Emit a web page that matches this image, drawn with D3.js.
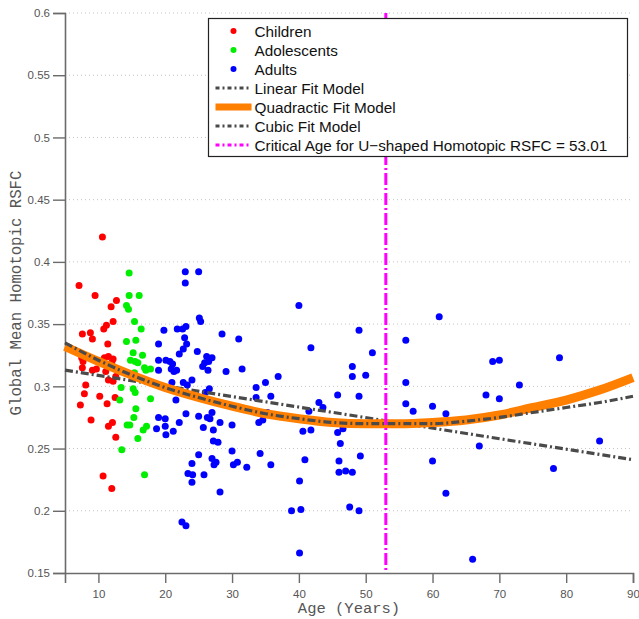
<!DOCTYPE html>
<html>
<head>
<meta charset="utf-8">
<script src="https://cdn.jsdelivr.net/npm/d3@7"></script>
<style>
  body { margin: 0; background: #fff; }
  svg { display: block; }
</style>
</head>
<body>
<svg id="chart" width="639" height="619"></svg>
<script>
// values
const childAge = [10.6, 7.1, 9.5, 12.7, 11.9, 12.2, 11.2, 10.8, 7.6, 8.8, 9.1, 11.4, 11.5, 10.9, 12.2, 12.0,
    7.5, 7.7, 7.6, 9.1, 9.7, 11.1, 12.6, 11.5, 12.2, 8.1, 7.9, 10.2, 12.5, 7.3, 11.3, 8.9, 12.1, 11.5, 12.6, 10.7, 12.0];
const childVal = [0.420, 0.381, 0.373, 0.369, 0.364, 0.352, 0.349, 0.346, 0.342, 0.343, 0.338, 0.334, 0.324, 0.323, 0.322, 0.319,
    0.323, 0.320, 0.315, 0.313, 0.314, 0.312, 0.308, 0.305, 0.304, 0.301, 0.294, 0.292, 0.291, 0.285, 0.286, 0.273, 0.271, 0.268, 0.259, 0.228, 0.218];

const adolAge = [14.6, 14.6, 16.1, 14.2, 14.5, 15.4, 16.4, 15.6, 14.2, 15.2, 16.6, 14.8, 15.5, 15.9, 16.9, 17.8,
    17.1, 15.4, 13.4, 13.2, 15.2, 15.5, 17.8, 15.6, 15.3, 14.7, 14.3, 17.2, 16.7, 15.9, 13.5, 16.9];
const adolVal = [0.391, 0.373, 0.373, 0.365, 0.362, 0.352, 0.346, 0.337, 0.336, 0.327, 0.325, 0.321, 0.320, 0.319, 0.315, 0.314,
    0.313, 0.311, 0.299, 0.289, 0.298, 0.295, 0.290, 0.282, 0.275, 0.269, 0.269, 0.268, 0.265, 0.258, 0.249, 0.229];

const adultAge = [23.0, 25.0, 23.0, 25.1, 25.3, 19.8, 21.8, 22.6, 23.1, 28.5, 22.9, 19.0, 23.2, 22.7, 22.1, 24.8,
    26.2, 27.0, 20.1, 20.7, 21.1, 19.0, 25.9, 26.5, 19.0, 20.9, 21.3, 21.7, 25.6, 26.4, 29.1, 24.0,
    21.0, 22.7, 23.3, 26.6, 26.0, 21.6, 23.1, 25.0, 26.3, 26.7, 27.0, 28.2, 19.0, 20.0, 18.7, 20.0,
    21.2, 22.1, 20.1, 25.7, 27.2, 27.2, 27.9, 25.0, 24.0, 27.0, 27.6, 27.3, 23.4, 24.1, 25.8, 24.0,
    28.2, 22.5, 23.1, 31.0, 31.5, 30.0, 30.0, 30.2, 30.8, 32.2, 33.6, 35.0, 36.9, 33.6, 35.8, 35.3,
    34.6, 34.0, 34.2, 35.8, 40.0, 41.8, 41.5, 41.8, 40.6, 40.9, 40.1, 38.9, 40.3, 40.1, 61.0, 49.0,
    56.0, 51.0, 48.0, 48.0, 50.0, 56.0, 45.8, 49.0, 43.0, 43.6, 56.0, 57.1, 60.0, 62.0, 45.8, 46.6,
    46.2, 67.0, 46.0, 46.0, 47.0, 48.0, 49.2, 60.0, 62.0, 47.6, 49.0, 66.0, 69.0, 70.0, 79.0, 73.0,
    68.0, 70.0, 70.0, 85.0, 78.1];
const adultVal = [0.392, 0.392, 0.383, 0.355, 0.352, 0.345, 0.346, 0.346, 0.348, 0.342, 0.339, 0.334, 0.334, 0.330, 0.326, 0.328,
    0.324, 0.323, 0.321, 0.320, 0.318, 0.321, 0.319, 0.320, 0.313, 0.314, 0.312, 0.313, 0.316, 0.313, 0.312, 0.305,
    0.303, 0.303, 0.301, 0.298, 0.295, 0.289, 0.278, 0.276, 0.275, 0.274, 0.279, 0.271, 0.275, 0.274, 0.266, 0.268,
    0.264, 0.271, 0.261, 0.267, 0.265, 0.256, 0.255, 0.245, 0.238, 0.242, 0.239, 0.237, 0.230, 0.229, 0.229, 0.223,
    0.215, 0.191, 0.188, 0.338, 0.314, 0.269, 0.248, 0.237, 0.239, 0.235, 0.299, 0.303, 0.308, 0.291, 0.292, 0.279,
    0.273, 0.271, 0.246, 0.237, 0.365, 0.331, 0.280, 0.265, 0.264, 0.241, 0.224, 0.200, 0.201, 0.166, 0.356, 0.345,
    0.337, 0.327, 0.316, 0.308, 0.309, 0.303, 0.293, 0.292, 0.287, 0.283, 0.286, 0.280, 0.284, 0.278, 0.263, 0.266,
    0.254, 0.252, 0.240, 0.231, 0.232, 0.231, 0.244, 0.240, 0.214, 0.203, 0.200, 0.161, 0.320, 0.321, 0.323, 0.301,
    0.293, 0.290, 0.277, 0.256, 0.234];

// fitted curves, read at every 5 years
const fitAges = [5, 10, 15, 20, 25, 30, 35, 40, 45, 50, 55, 60, 65, 70, 75, 80, 85, 90];
const quadFit = [0.332, 0.320, 0.309, 0.299, 0.291, 0.284, 0.278, 0.274, 0.271, 0.270, 0.270, 0.271, 0.273, 0.277, 0.283, 0.289, 0.297, 0.307];
const cubicFit = [0.335, 0.321, 0.309, 0.299, 0.291, 0.284, 0.278, 0.274, 0.271, 0.270, 0.270, 0.270, 0.272, 0.275, 0.279, 0.283, 0.287, 0.292];
const linearAges = [5, 90];
const linearFit = [0.313, 0.241];
const criticalAge = 53.01;

const xTickLabels = [10, 20, 30, 40, 50, 60, 70, 80, 90];
const yTickLabels = [0.15, 0.2, 0.25, 0.3, 0.35, 0.4, 0.45, 0.5, 0.55, 0.6];

const svg = d3.select("#chart");
const margin = { left: 65, right: 6, top: 13, bottom: 46 };
const width = 639, height = 619;

const x = d3.scaleLinear().domain([5, 90]).range([margin.left, width - margin.right]);
const y = d3.scaleLinear().domain([0.15, 0.6]).range([height - margin.bottom, margin.top]);

const axisColor = "#6b6b6b";
const labelFont = "'Liberation Sans', Helvetica, Arial, sans-serif";
const monoFont = "'Liberation Mono', 'Courier New', monospace";

// dotted grid at major y ticks
svg.append("g")
    .selectAll("line")
    .data(yTickLabels.filter(d => d > 0.15))
    .join("line")
    .attr("x1", x(5)).attr("x2", x(90))
    .attr("y1", d => y(d)).attr("y2", d => y(d))
    .style("stroke", "#c4c4c4")
    .style("stroke-width", 1)
    .style("stroke-dasharray", "1,3");

// minor ticks
const xMinor = d3.range(6, 90, 2).filter(d => d % 10 !== 0);
const yMinor = d3.range(16, 60, 1).filter(d => d % 5 !== 0).map(d => d / 100);

const xAxisG = svg.append("g").attr("transform", `translate(0, ${y(0.15)})`);
xAxisG.call(d3.axisBottom(x).tickValues(xMinor).tickSize(5).tickFormat(""));
xAxisG.call(d3.axisBottom(x).tickValues(xTickLabels).tickSize(10).tickPadding(7).tickFormat(d3.format("d")));

const yAxisG = svg.append("g").attr("transform", `translate(${x(5)}, 0)`);
yAxisG.call(d3.axisLeft(y).tickValues(yMinor).tickSize(6).tickFormat(""));
yAxisG.call(d3.axisLeft(y).tickValues(yTickLabels).tickSize(12).tickPadding(3).tickFormat(d => String(+d.toFixed(2))));

[xAxisG, yAxisG].forEach(g => {
    g.selectAll(".domain").style("stroke", axisColor).style("stroke-width", 1.6);
    g.selectAll(".tick line").style("stroke", axisColor).style("stroke-width", 1.4);
    g.selectAll("text")
        .style("font-family", labelFont)
        .style("font-size", "11.5px")
        .style("fill", "#555");
});

// axis titles
svg.append("text")
    .attr("x", (x(5) + x(90)) / 2)
    .attr("y", 613)
    .attr("text-anchor", "middle")
    .style("font-family", monoFont)
    .style("font-size", "15.5px")
    .style("fill", "#555")
    .text("Age (Years)");

svg.append("text")
    .attr("transform", `translate(21, ${(y(0.15) + y(0.6)) / 2}) rotate(-90)`)
    .attr("text-anchor", "middle")
    .style("font-family", monoFont)
    .style("font-size", "15.7px")
    .style("fill", "#555")
    .text("Global Mean Homotopic RSFC");

// scatter groups
const groups = [
    { name: "Children", ages: childAge, vals: childVal, color: "#ff0000" },
    { name: "Adolescents", ages: adolAge, vals: adolVal, color: "#00ee00" },
    { name: "Adults", ages: adultAge, vals: adultVal, color: "#0000ff" }
];

groups.forEach(g => {
    svg.append("g")
        .selectAll("circle")
        .data(g.ages.map((a, i) => ({ age: a, val: g.vals[i] })))
        .join("circle")
        .attr("cx", d => x(d.age))
        .attr("cy", d => y(d.val))
        .attr("r", 3.5)
        .style("fill", g.color);
});

const lineGen = d3.line()
    .x(d => x(d[0]))
    .y(d => y(d[1]))
    .curve(d3.curveMonotoneX);

const fitGray = "#4a4a4a";
const dashDot = "8,3,2,3";

svg.append("path")
    .datum(linearAges.map((a, i) => [a, linearFit[i]]))
    .attr("d", lineGen)
    .style("fill", "none")
    .style("stroke", fitGray)
    .style("stroke-width", 3.2)
    .style("stroke-dasharray", dashDot);

svg.append("path")
    .datum(fitAges.map((a, i) => [a, quadFit[i]]))
    .attr("d", lineGen)
    .style("fill", "none")
    .style("stroke", "#ff7f00")
    .style("stroke-width", 9);

svg.append("path")
    .datum(fitAges.map((a, i) => [a, cubicFit[i]]))
    .attr("d", lineGen)
    .style("fill", "none")
    .style("stroke", fitGray)
    .style("stroke-width", 3.2)
    .style("stroke-dasharray", dashDot);

svg.append("line")
    .attr("x1", x(criticalAge)).attr("x2", x(criticalAge))
    .attr("y1", y(0.6)).attr("y2", y(0.15))
    .style("stroke", "#ff00ff")
    .style("stroke-width", 3)
    .style("stroke-dasharray", "12,3,2,3");

// legend
const legend = svg.append("g").attr("transform", "translate(208.5, 18.5)");
legend.append("rect")
    .attr("width", 419).attr("height", 138)
    .style("fill", "#fff")
    .style("stroke", "#222")
    .style("stroke-width", 1.2);

const legendItems = [
    { label: "Children", type: "dot", color: "#ff0000" },
    { label: "Adolescents", type: "dot", color: "#00ee00" },
    { label: "Adults", type: "dot", color: "#0000ff" },
    { label: "Linear Fit Model", type: "line", color: fitGray, w: 3, dash: "4,3,2,3" },
    { label: "Quadractic Fit Model", type: "line", color: "#ff7f00", w: 7, dash: null },
    { label: "Cubic Fit Model", type: "line", color: fitGray, w: 3, dash: "4,3,2,3" },
    { label: "Critical Age for U\u2212shaped Homotopic RSFC = " + criticalAge.toFixed(2), type: "line", color: "#ff00ff", w: 3, dash: "4,3,2,3" }
];

const rows = legend.selectAll("g.row")
    .data(legendItems)
    .join("g")
    .attr("class", "row")
    .attr("transform", (d, i) => `translate(0, ${12.5 + i * 19})`);

rows.filter(d => d.type === "dot")
    .append("circle")
    .attr("cx", 25).attr("cy", 0).attr("r", 3)
    .style("fill", d => d.color);

rows.filter(d => d.type === "line")
    .append("line")
    .attr("x1", 7).attr("x2", 43)
    .attr("y1", 0).attr("y2", 0)
    .style("stroke", d => d.color)
    .style("stroke-width", d => d.w)
    .style("stroke-dasharray", d => d.dash);

rows.append("text")
    .attr("x", 46)
    .attr("y", 5.5)
    .style("font-family", labelFont)
    .style("font-size", "15.3px")
    .style("fill", "#111")
    .text(d => d.label);
</script>
</body>
</html>
